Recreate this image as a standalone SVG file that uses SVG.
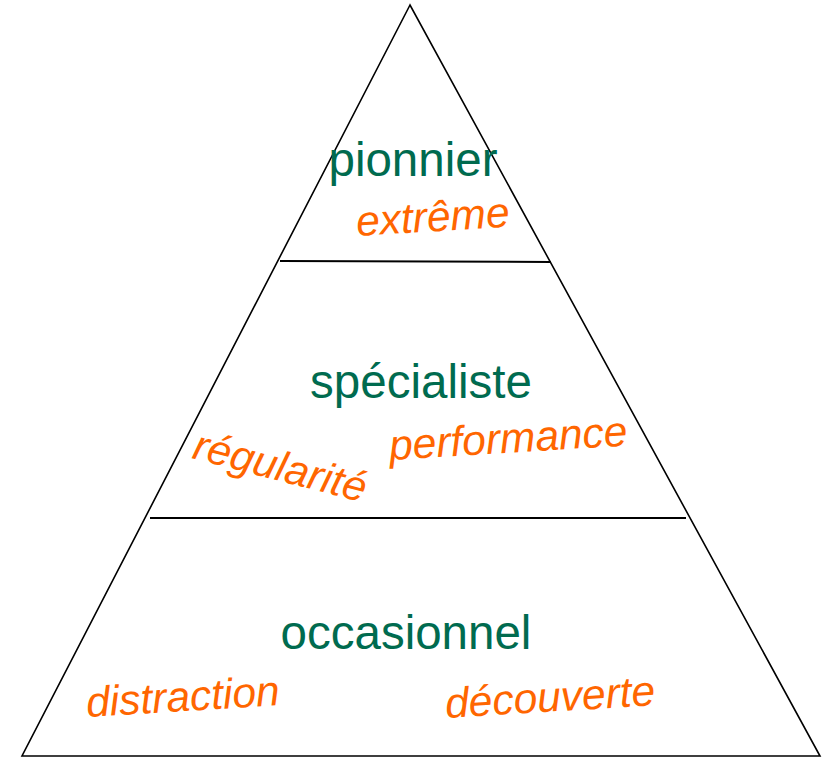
<svg xmlns="http://www.w3.org/2000/svg" width="827" height="758" viewBox="0 0 827 758">
  <style>
    .edge { fill: none; stroke: #000; stroke-width: 1.6; stroke-linejoin: miter; }
    .sep { stroke: #000; stroke-width: 2; }
    .main { font-family: "Liberation Sans", Arial, sans-serif; font-size: 47.5px; fill: #006B4F; text-anchor: middle; }
    .sub { font-family: "Liberation Sans", Arial, sans-serif; font-size: 42.5px; font-style: italic; fill: #FF6600; }
  </style>
  <rect width="827" height="758" fill="#ffffff"/>
  <g id="connectors">
    <polygon class="edge" points="410,5 22,756 820,756"/>
    <line class="sep" x1="280" y1="261" x2="551" y2="262"/>
    <line class="sep" x1="150" y1="518" x2="686" y2="518"/>
  </g>
  <g id="tier-pionnier">
    <text class="main" x="413" y="176">pionnier</text>
    <text class="sub" x="357" y="236" transform="rotate(-3.5 357 236)">extrême</text>
  </g>
  <g id="tier-specialiste">
    <text class="main" x="421" y="398">spécialiste</text>
    <text class="sub" x="191" y="458" transform="rotate(14.5 191 458)">régularité</text>
    <text class="sub" x="390" y="460" transform="rotate(-3.5 390 460)">performance</text>
  </g>
  <g id="tier-occasionnel">
    <text class="main" x="406" y="649">occasionnel</text>
    <text class="sub" x="87" y="717" transform="rotate(-3.5 87 717)">distraction</text>
    <text class="sub" x="446" y="718" transform="rotate(-3.5 446 718)">découverte</text>
  </g>
</svg>
